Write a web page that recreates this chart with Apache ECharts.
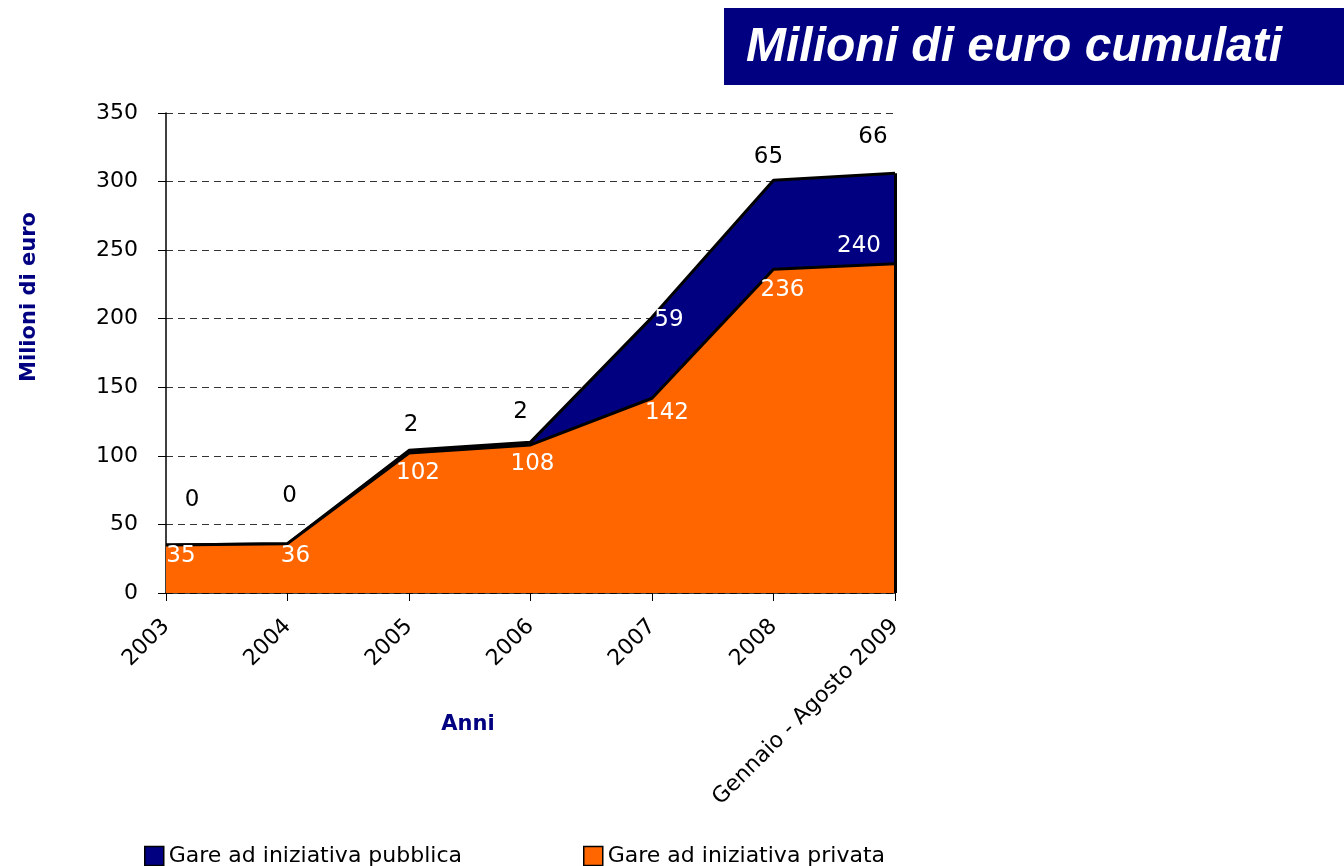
<!DOCTYPE html>
<html lang="it">
<head>
    <meta charset="UTF-8">
    <title>Milioni di euro cumulati</title>
</head>
<body style="margin:0">
<div id="main" style="height: 866px;width: 1344px"></div>
</body>
<script src="https://cdn.jsdelivr.net/npm/echarts@6/dist/echarts.min.js"></script>
<script>
    var anni = ['2003', '2004', '2005', '2006', '2007', '2008', 'Gennaio - Agosto 2009'];
    var privata = [35, 36, 102, 108, 142, 236, 240];
    var pubblica = [0, 0, 2, 2, 59, 65, 66];
    var yTicks = [0, 50, 100, 150, 200, 250, 300, 350];

    // label offsets (pixels), tuned by eye
    var privOffset = [[15, 11], [8, 12], [9, 20], [2, 19], [15, 15], [9, 21], [-36, -18]];
    var pubOffset = [[26, -45], [2, -48], [2, -25], [-10, -30], [17, 3], [-5, -23], [-22, -36]];
    var pubColor = ['#000', '#000', '#000', '#000', '#fff', '#000', '#000'];

    var font = 'DejaVu Sans';
    var myChart = echarts.init(document.getElementById('main'));

    var privData = privata.map(function (v, i) {
        return {value: v, label: {offset: privOffset[i]}};
    });
    var pubData = pubblica.map(function (v, i) {
        return {value: v, label: {offset: pubOffset[i], color: pubColor[i]}};
    });
    var last = anni.length - 1;

    var legendStyle = {fontSize: 22, color: '#000', fontFamily: font};

    var option = {
        backgroundColor: '#fff',
        textStyle: {fontFamily: font},
        grid: {left: 166, right: 449, top: 113, bottom: 273},
        legend: [{
            left: 139, top: 840, itemWidth: 19, itemHeight: 19, icon: 'rect', itemGap: 6,
            data: [{name: 'Gare ad iniziativa pubblica',
                itemStyle: {color: '#000080', opacity: 1, borderColor: '#000', borderWidth: 1.5}}],
            textStyle: legendStyle
        }, {
            left: 578, top: 840, itemWidth: 19, itemHeight: 19, icon: 'rect',
            data: [{name: 'Gare ad iniziativa privata',
                itemStyle: {color: '#FF6600', opacity: 1, borderColor: '#000', borderWidth: 1.5}}],
            textStyle: legendStyle
        }],
        xAxis: {
            type: 'category',
            data: anni,
            boundaryGap: false,
            axisLine: {lineStyle: {color: '#000', width: 1.5}},
            axisTick: {show: true, length: 8, lineStyle: {color: '#000'}},
            axisLabel: {rotate: 45, fontSize: 22, color: '#000', margin: 30, interval: 0}
        },
        yAxis: {
            type: 'value',
            min: yTicks[0],
            max: yTicks[yTicks.length - 1],
            interval: 50,
            axisLine: {show: true, lineStyle: {color: '#000', width: 1.5}},
            axisTick: {show: true, length: 8, inside: false, lineStyle: {color: '#000'}},
            axisLabel: {fontSize: 22, color: '#000', margin: 28},
            splitLine: {lineStyle: {color: '#333', type: [7, 5], width: 1}}
        },
        graphic: [
            {type: 'rect', left: 724, top: 8, shape: {width: 620, height: 77}, style: {fill: '#000080'}},
            {type: 'text', left: 746, top: 24, style: {text: 'Milioni di euro cumulati', fill: '#fff',
                font: 'italic bold 48px "Liberation Sans", Arial, sans-serif'}},
            {type: 'text', x: 30, y: 297, rotation: Math.PI / 2, style: {text: 'Milioni di euro', fill: '#000080',
                font: 'bold 21px "DejaVu Sans", sans-serif', align: 'center', verticalAlign: 'middle'}},
            {type: 'text', x: 468, y: 725, style: {text: 'Anni', fill: '#000080',
                font: 'bold 21px "DejaVu Sans", sans-serif', align: 'center', verticalAlign: 'middle'}}
        ],
        series: [{
            name: 'Gare ad iniziativa privata',
            type: 'line',
            stack: 'tot',
            data: privData,
            color: '#FF6600',
            symbol: 'circle',
            symbolSize: 0,
            showSymbol: true,
            lineStyle: {color: '#000', width: 3},
            areaStyle: {color: '#FF6600', opacity: 1},
            label: {show: true, position: 'inside', color: '#fff', fontSize: 23, fontFamily: font},
            z: 2
        }, {
            name: 'Gare ad iniziativa pubblica',
            type: 'line',
            stack: 'tot',
            data: pubData,
            color: '#000080',
            symbol: 'circle',
            symbolSize: 0,
            showSymbol: true,
            lineStyle: {color: '#000', width: 3},
            areaStyle: {color: '#000080', opacity: 1},
            label: {show: true, position: 'inside', color: '#000', fontSize: 23, fontFamily: font},
            markLine: {
                symbol: 'none', silent: true, label: {show: false},
                lineStyle: {color: '#000', width: 3, type: 'solid'},
                data: [[{coord: [anni[last], 0]}, {coord: [anni[last], privata[last] + pubblica[last]]}]]
            },
            z: 1
        }]
    };

    myChart.setOption(option);
</script>
</html>
